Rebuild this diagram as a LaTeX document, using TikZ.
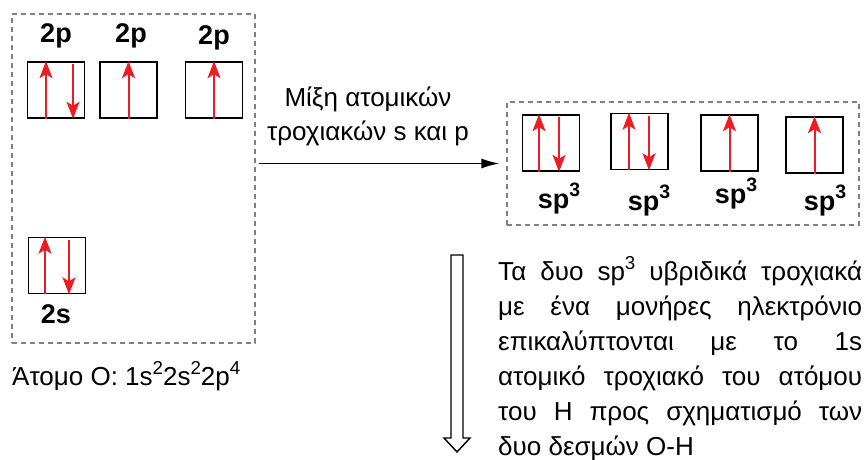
\documentclass[tikz,border=0pt]{standalone}
\usepackage{fontspec}
\setmainfont{Liberation Sans}
\usetikzlibrary{arrows.meta,positioning}

\definecolor{spinred}{RGB}{237,28,36}
\definecolor{boxgray}{RGB}{128,128,128}

% raised index, a bit larger than \textsuperscript
\newcommand\hi[1]{\raisebox{0.42em}{\scalebox{0.72}{#1}}}

\begin{document}
\begin{tikzpicture}[x=1pt,y=-1pt,>=latex,
	orb/.style={draw,line width=1.6pt,minimum width=57pt,minimum height=56pt,inner sep=0pt},
	spin/.style={color=spinred,line width=2pt,-{Stealth[length=17pt,width=13pt,inset=4pt]}},
	dbox/.style={draw=boxgray,line width=1.3pt,dash pattern=on 5pt off 4pt,inner sep=0pt},
	lbl/.style={font=\bfseries\fontsize{27}{30}\selectfont,anchor=base,inner sep=0pt},
	txt/.style={font=\fontsize{26}{34}\selectfont}]

\useasboundingbox (0,0) rectangle (868,460);

\def\d{3pt}

% oxygen atom
\node[dbox,minimum width=243pt,minimum height=329pt] (atom) at (133.5,178.5) {};

\node[orb] (p1) at (56,90) {};
\node[orb] (p2) at (128.5,90) {};
\node[orb] (p3) at (214,90) {};
\node[orb] (s) at (57,265.5) {};

\node[lbl] (lp1) at (56,43) {2p};
\node[lbl] (lp2) at (131,43) {2p};
\node[lbl] (lp3) at (214,45) {2p};
\node[lbl] (ls) at (56,323) {2s};

\draw[spin] ([xshift=-10pt]p1.south) -- ([xshift=-10pt]p1.north);
\draw[spin] ([xshift=17pt,yshift=-\d]p1.north) -- ([xshift=17pt]p1.south);
\draw[spin] (p2.south) -- (p2.north);
\draw[spin] (p3.south) -- (p3.north);
\draw[spin] ([xshift=-12pt]s.south) -- ([xshift=-12pt]s.north);
\draw[spin] ([xshift=12pt,yshift=-\d]s.north) -- ([xshift=12pt]s.south);

\node[txt,anchor=base west,inner sep=0pt] (conf) at (12,385)
	{Άτομο Ο: 1s\hi{2}2s\hi{2}2p\hi{4}};

% hybrid orbitals
\node[dbox,minimum width=352pt,minimum height=123pt] (hyb) at (683,163.5) {};

\node[orb] (h1) at (551,143) {};
\node[orb] (h2) at (639.5,141.5) {};
\node[orb] (h3) at (729.5,143) {};
\node[orb] (h4) at (814.5,145) {};

\node[lbl] (lh1) at (559,208) {sp\hi{3}};
\node[lbl] (lh2) at (649,210) {sp\hi{3}};
\node[lbl] (lh3) at (736,203) {sp\hi{3}};
\node[lbl] (lh4) at (825,210) {sp\hi{3}};

\draw[spin] ([xshift=-12pt]h1.south) -- ([xshift=-12pt]h1.north);
\draw[spin] ([xshift=8pt,yshift=-\d]h1.north) -- ([xshift=8pt]h1.south);
\draw[spin] ([xshift=-10.5pt]h2.south) -- ([xshift=-10.5pt]h2.north);
\draw[spin] ([xshift=9.5pt,yshift=-\d]h2.north) -- ([xshift=9.5pt]h2.south);
\draw[spin] (h3.south) -- (h3.north);
\draw[spin] (h4.south) -- (h4.north);

% mixing step
\draw[line width=1.5pt,-{Latex[length=18pt,width=10pt]}]
	([xshift=3pt]atom.east |- hyb.west) -- ([xshift=-7pt]hyb.west);
\node[txt,align=center,anchor=north,inner sep=0pt] (mix) at (368,87)
	{Μίξη ατομικών\\τροχιακών s και p};

% overlap with H 1s
\coordinate (dtop) at (457,255);
\draw[line width=1.4pt] (dtop) ++(-6,0) -- ++(12,0) -- ++(0,183) -- ++(7,0)
	-- ++(-13,14) -- ++(-13,-14) -- ++(7,0) -- cycle;

\node[font=\fontsize{26}{35}\selectfont,text width=364pt,align=justify,
	anchor=north west,inner sep=0pt] (ovl) at (498,256)
	{Τα δυο sp\hi{3} υβριδικά τροχιακά\linebreak
	με ένα μονήρες ηλεκτρόνιο\linebreak
	επικαλύπτονται με το 1s\linebreak
	ατομικό τροχιακό του ατόμου\linebreak
	του Η προς σχηματισμό των\linebreak
	δυο δεσμών Ο-Η};

\end{tikzpicture}
\end{document}
